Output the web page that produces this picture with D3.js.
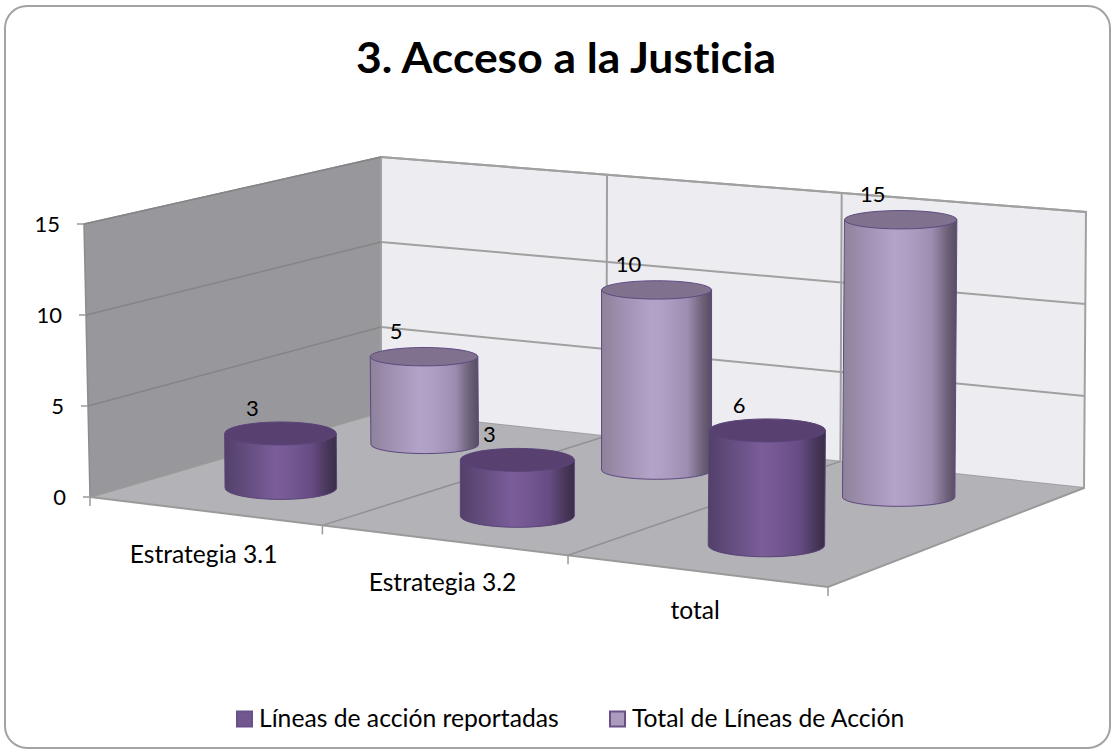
<!DOCTYPE html>
<html><head><meta charset="utf-8">
<script src="https://cdn.jsdelivr.net/npm/d3@7/dist/d3.min.js"></script>
<style>html,body{margin:0;padding:0;background:#fff}svg{display:block}text{font-family:Lato,Carlito,sans-serif;fill:#000;font-variant-ligatures:none}</style>
</head><body><div id="c"></div>
<script>
const categories = ["Estrategia 3.1", "Estrategia 3.2", "total"];
const seriesNames = ["Líneas de acción reportadas", "Total de Líneas de Acción"];
const reported = [3, 3, 6];
const totalLines = [5, 10, 15];
const valueTicks = [0, 5, 10, 15];
const title = "3. Acceso a la Justicia";

const W = 1116, H = 754;
const svg = d3.select("#c").append("svg").attr("width", W).attr("height", H);
const defs = svg.append("defs");

function grad(id, stops) {
  const g = defs.append("linearGradient").attr("id", id).attr("x1", 0).attr("x2", 1).attr("y1", 0).attr("y2", 0);
  stops.forEach(s => g.append("stop").attr("offset", s[0]).attr("stop-color", s[1]));
}
grad("g0", [[0, "#534069"], [0.15, "#5f4a7a"], [0.45, "#7a5d99"], [0.55, "#775a95"], [0.78, "#664c83"], [0.92, "#483659"], [1, "#3a2c4a"]]);
grad("g1", [[0, "#8e8299"], [0.15, "#9c8dad"], [0.45, "#b3a3c8"], [0.55, "#b0a0c5"], [0.78, "#9d8eb1"], [0.92, "#6c6078"], [1, "#574c63"]]);
const topFill = ["#584170", "#80728e"];
const edge = ["#5a4478", "#5d4a80"];

// chart frame
svg.append("rect").attr("x", 5).attr("y", 6).attr("width", 1105).attr("height", 742)
  .attr("rx", 22).attr("fill", "#fff").attr("stroke", "#a3a3a3").attr("stroke-width", 2);

// floor: homography from the unit square to the drawn quadrilateral
const FL = [90, 497], FR = [828, 587], BR = [1084, 488], BL = [381, 412];
const H0 = (() => {
  const [x0, y0] = FL, [x1, y1] = FR, [x2, y2] = BR, [x3, y3] = BL;
  const dx1 = x1 - x2, dx2 = x3 - x2, sx = x0 - x1 + x2 - x3;
  const dy1 = y1 - y2, dy2 = y3 - y2, sy = y0 - y1 + y2 - y3;
  const den = dx1 * dy2 - dx2 * dy1;
  const g = (sx * dy2 - dx2 * sy) / den, h = (dx1 * sy - sx * dy1) / den;
  return { a: x1 - x0 + g * x1, b: x3 - x0 + h * x3, c: x0, d: y1 - y0 + g * y1, e: y3 - y0 + h * y3, f: y0, g, h };
})();
const floorPt = (u, v) => {
  const w = H0.g * u + H0.h * v + 1;
  return [(H0.a * u + H0.b * v + H0.c) / w + 13.5 * u * (1 - u) * v, (H0.d * u + H0.e * v + H0.f) / w];
};
const bil = (fl, fr, br, bl) => (u, v) => d3.interpolateNumber(d3.interpolateNumber(fl, fr)(u), d3.interpolateNumber(bl, br)(u))(v);
const fullHeight = bil(273, 296, 276, 255);
const wallLean = bil(-6, 2, 2, 0);

const uScale = d3.scaleBand().domain(categories).range([0, 1]);
const vScale = d3.scaleBand().domain(seriesNames).range([0, 1]);
const yScale = d3.scaleLinear().domain([0, 15]).range([0, 1]);

// point at floor position (u,v), raised by a value
const wallPt = (u, v, val) => {
  const p = floorPt(u, v), t = yScale(val);
  return [p[0] + wallLean(u, v) * t, p[1] - fullHeight(u, v) * t];
};
const line = d3.line();

// walls and floor
const maxV = valueTicks[valueTicks.length - 1];
svg.append("path").attr("d", line([wallPt(0, 0, 0), wallPt(0, 1, 0), wallPt(0, 1, maxV), wallPt(0, 0, maxV)]) + "Z")
  .attr("fill", "#98979b").attr("stroke", "#8c8c8e").attr("stroke-width", 1.5);
svg.append("path").attr("d", line([wallPt(0, 1, 0), wallPt(1, 1, 0), wallPt(1, 1, maxV), wallPt(0, 1, maxV)]) + "Z")
  .attr("fill", "#edecf1").attr("stroke", "#a0a0a0").attr("stroke-width", 2);
svg.append("path").attr("d", line([FL, FR, BR, BL]) + "Z")
  .attr("fill", "#b3b2b6").attr("stroke", "none");
svg.append("path").attr("d", line([BL, FL, FR, BR])).attr("fill", "none").attr("stroke", "#9a9a9a").attr("stroke-width", 2);

// value gridlines and ticks
valueTicks.forEach(val => {
  const a = wallPt(0, 0, val), b = wallPt(0, 1, val), c = wallPt(1, 1, val);
  if (val > 0) svg.append("path").attr("d", line([a, b])).attr("fill", "none").attr("stroke", "#858487").attr("stroke-width", 1.5);
  if (val > 0) svg.append("path").attr("d", line([b, c])).attr("fill", "none").attr("stroke", "#a0a0a0").attr("stroke-width", 2);
  svg.append("path").attr("d", line([[a[0] - 7, a[1]], a])).attr("stroke", "#9a9a9a").attr("stroke-width", 1.5);
  svg.append("text").attr("x", a[0] - 24).attr("y", a[1] + 2).attr("text-anchor", "end")
    .attr("dominant-baseline", "middle").attr("font-size", 22).text(val);
});

// category dividers, back wall verticals, ticks
d3.range(0, categories.length + 1).map(i => i / categories.length).forEach(u => {
  const f = floorPt(u, 0), b = floorPt(u, 1);
  if (u > 0 && u < 1) {
    svg.append("path").attr("d", line([f, b])).attr("stroke", "#919094").attr("stroke-width", 1.5);
    svg.append("path").attr("d", line([b, wallPt(u, 1, maxV)])).attr("stroke", "#a0a0a0").attr("stroke-width", 2);
  }
  svg.append("path").attr("d", line([f, [f[0], f[1] + 9]])).attr("stroke", "#9a9a9a").attr("stroke-width", 1.5);
});

// category labels
categories.forEach(c => {
  const u = uScale(c) + uScale.bandwidth() / 2;
  const p = floorPt(u, 0);
  svg.append("text").attr("x", p[0] - 1).attr("y", p[1] + 52 - 7 * u * u * u).attr("text-anchor", "middle")
    .attr("font-size", 24.6).text(c);
});

// cylinders: back row first, then front row
const rows = [[1, totalLines], [0, reported]];
const labels = [];
rows.forEach(([s, vals]) => {
  categories.forEach((c, i) => {
    const val = vals[i];
    const u = uScale(c) + uScale.bandwidth() / 2, v = vScale(seriesNames[s]) + vScale.bandwidth() / 2;
    const b = floorPt(u, v), t = yScale(val);
    const tx = b[0] + 6 * (u - 0.5) * t, ty = b[1] - fullHeight(u, v) * t;
    const rx = 58 - 4 * v + (u - 0.5) * 3.6, ry = 12.65 - 4.6 * v;
    const g = svg.append("g");
    g.append("path")
      .attr("d", `M${b[0] - rx},${b[1]} A${rx},${ry} 0 0 0 ${b[0] + rx},${b[1]} L${tx + rx},${ty} L${tx - rx},${ty} Z`)
      .attr("fill", `url(#g${s})`).attr("stroke", edge[s]).attr("stroke-width", 1);
    g.append("ellipse").attr("cx", tx).attr("cy", ty).attr("rx", rx).attr("ry", ry)
      .attr("fill", topFill[s]).attr("stroke", edge[s]).attr("stroke-width", 1);
    labels.push([tx - 28, ty - 23, val]);
  });
});
labels.forEach(l => svg.append("text").attr("x", l[0]).attr("y", l[1]).attr("text-anchor", "middle")
  .attr("dominant-baseline", "middle").attr("font-size", 22).text(l[2]));

// title
svg.append("text").attr("x", 566).attr("y", 73).attr("text-anchor", "middle")
  .attr("font-size", 42).attr("font-weight", 700)
  .attr("textLength", 420).attr("lengthAdjust", "spacingAndGlyphs").text(title);

// legend
const legendX = [237, 610];
seriesNames.forEach((n, i) => {
  svg.append("rect").attr("x", legendX[i]).attr("y", 711.5).attr("width", 15).attr("height", 15)
    .attr("fill", i ? "#ab9cbf" : "#73588f").attr("stroke", "#6a5088").attr("stroke-width", 2);
  svg.append("text").attr("x", legendX[i] + 22).attr("y", 727).attr("font-size", 24.7).text(n);
});
</script></body></html>
